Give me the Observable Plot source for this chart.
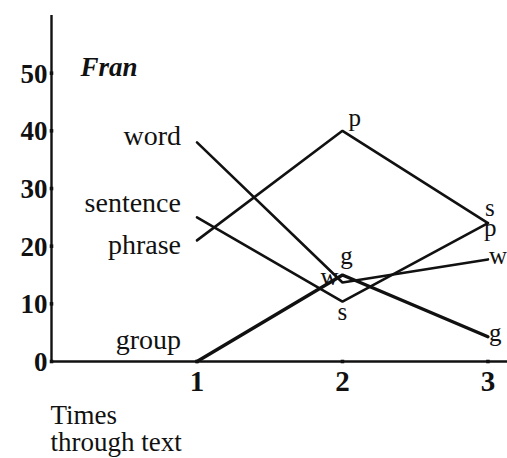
<!DOCTYPE html>
<html>
<head>
<meta charset="utf-8">
<script src="https://cdn.jsdelivr.net/npm/d3@7"></script>
<script src="https://cdn.jsdelivr.net/npm/@observablehq/plot@0.6"></script>
<style>
  html, body { margin: 0; padding: 0; background: #fff; }
  #chart svg { display: block; }
</style>
</head>
<body>
<div id="chart"></div>
<script>
// ---- data ----
const times = [1, 2, 3];
const word = [38, 13.7, 17.7];
const phrase = [21, 40, 24];
const sentence = [25, 10.4, 24];
const group = [0, 15, 4.3];
const seriesNames = ["word", "phrase", "sentence", "group"];
const seriesCodes = ["w", "p", "s", "g"];
const yTicks = [0, 10, 20, 30, 40, 50];
const xTicks = [1, 2, 3];
const panelTitle = "Fran";
const xTitle = ["Times", "through text"];

const valuesBySeries = {word, phrase, sentence, group};
const rows = [];
seriesNames.forEach((name, i) => {
  valuesBySeries[name].forEach((v, j) => rows.push({series: name, code: seriesCodes[i], t: times[j], v}));
});

// label placement offsets (pixels), one per series and time point
const labelOffsets = {
  word:     [{dx: -16, dy: 3, a: "end"},  {dx: -4, dy: 3, a: "end"},    {dx: 1, dy: 5, a: "start"}],
  phrase:   [{dx: -16, dy: 14, a: "end"}, {dx: 6, dy: -5, a: "start"},  {dx: -4, dy: 13, a: "start"}],
  sentence: [{dx: -16, dy: -5, a: "end"}, {dx: 0, dy: 18, a: "middle"}, {dx: -3, dy: -7, a: "start"}],
  group:    [{dx: -16, dy: -13, a: "end"},{dx: 4, dy: -11, a: "middle"},{dx: 1, dy: 4, a: "start"}]
};

const font = "'Liberation Serif', 'Times New Roman', serif";
const ink = "#111";

const labelMarks = [];
rows.forEach(d => {
  const j = times.indexOf(d.t);
  const o = labelOffsets[d.series][j];
  const isName = j === 0;
  labelMarks.push(Plot.text([d], {
    x: "t", y: "v", text: isName ? "series" : "code",
    textAnchor: o.a, lineAnchor: "bottom", dx: o.dx, dy: o.dy,
    fontSize: isName ? 28 : 25, fill: ink, letterSpacing: isName ? "0.6px" : "0px"
  }));
});

const chart = Plot.plot({
  width: 507,
  height: 458,
  marginLeft: 51,
  marginRight: 5,
  marginTop: 15,
  marginBottom: 97,
  style: {fontFamily: font, background: "#fff", color: ink},
  x: {domain: [0, 3.1], axis: null},
  y: {domain: [0, 60], axis: null},
  marks: [
    // axes lines
    Plot.ruleX([0], {y1: 0, y2: 60, stroke: ink, strokeWidth: 2.4}),
    Plot.ruleY([0], {x1: 0, x2: 3.15, stroke: ink, strokeWidth: 2.4, clip: false}),
    Plot.dot(yTicks, {x: 0, y: d => d, r: 2, fill: ink, symbol: "square"}),
    Plot.dot(xTicks, {x: d => d, y: 0, r: 2, fill: ink, symbol: "square"}),
    Plot.text(yTicks, {x: 0, y: d => d, text: d => String(d), textAnchor: "end", dx: -4, dy: 1,
      fontSize: 27, fontWeight: "bold", fill: ink, letterSpacing: "1.5px"}),
    Plot.text(xTicks, {x: d => d, y: 0, text: d => String(d), lineAnchor: "top", dy: 9,
      fontSize: 29, fontWeight: "bold", fill: ink}),
    // series lines
    Plot.line(rows.filter(d => d.series !== "group"), {x: "t", y: "v", z: "series", stroke: ink,
      strokeWidth: 2.6, strokeLinejoin: "miter"}),
    Plot.line(rows.filter(d => d.series === "group"), {x: "t", y: "v", stroke: ink,
      strokeWidth: 3.4, strokeLinejoin: "miter"}),
    ...labelMarks,
    // panel title
    Plot.text([panelTitle], {frameAnchor: "top-left", text: d => d, textAnchor: "start", lineAnchor: "bottom",
      dx: 29, dy: 60, fontSize: 27, fontStyle: "italic", fontWeight: "bold", fill: ink}),
    // x title
    Plot.text([xTitle[0]], {frameAnchor: "bottom-left", text: d => d, textAnchor: "start", lineAnchor: "bottom",
      dx: -1, dy: 62, fontSize: 27, fill: ink, letterSpacing: "1.3px"}),
    Plot.text([xTitle[1]], {frameAnchor: "bottom-left", text: d => d, textAnchor: "start", lineAnchor: "bottom",
      dx: -1, dy: 89, fontSize: 27, fill: ink, letterSpacing: "1.3px"})
  ]
});
document.getElementById("chart").appendChild(chart);
</script>
</body>
</html>
